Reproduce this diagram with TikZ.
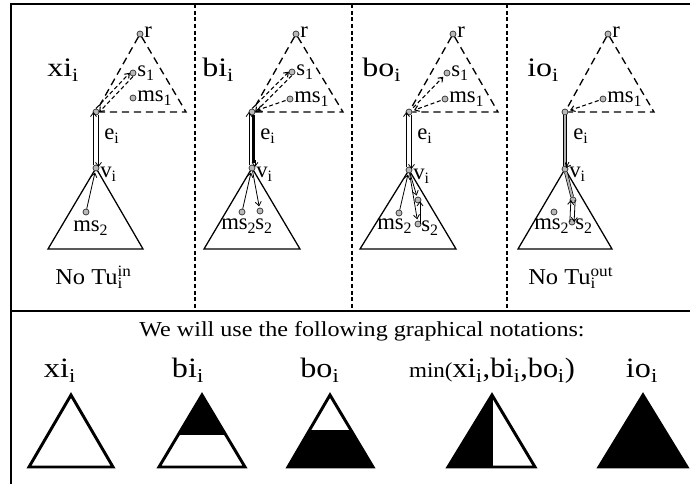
\documentclass[tikz,border=0pt]{standalone}
\usepackage{fontspec}
\setmainfont{Liberation Serif}
\usetikzlibrary{arrows.meta,calc}
\tikzset{
 gdot/.style={circle,draw=black!85,fill=gray!55,inner sep=0pt,minimum size=4.5pt,line width=0.5pt},
 lab/.style={font=\fontsize{17}{17}\selectfont, inner sep=0pt, anchor=base west},
 big/.style={font=\fontsize{20}{20}\selectfont, inner sep=0pt, anchor=base west},
 note/.style={font=\fontsize{21}{21}\selectfont, inner sep=0pt, anchor=base},
 dsh/.style={dash pattern=on 5.5pt off 3.5pt, line width=1pt},
 dsa/.style={dash pattern=on 3pt off 2pt, line width=0.8pt, -{Straight Barb[length=3pt,width=4.5pt]}, shorten <=2pt, shorten >=1.5pt},
 tri/.style={line width=0.95pt},
 arr/.style={line width=0.6pt, -{Straight Barb[length=3pt,width=4.5pt]}},
 nt/.style={line width=2.2pt, line join=miter},
 sep/.style={dash pattern=on 3pt off 2pt, line width=0.8pt},
}
\newcommand\tsub[1]{\textsubscript{#1}}
\newcommand\wx[2]{\scalebox{#1}[1]{#2}}
\begin{document}
\begin{tikzpicture}[x=0.75pt,y=-0.75pt]
\useasboundingbox (0,0) rectangle (690,484);
\clip (0,0) rectangle (690,484);
% frame
\draw[line width=1.5pt] (11,485) -- (11,4) -- (692,4);
\draw[line width=1.5pt] (11,311) -- (692,311);
\draw[sep] (195,4) -- (195,311);
\draw[sep] (352,4) -- (352,311);
\draw[sep] (507,4) -- (507,311);

% ---------- panel 1 : xi
\node[gdot] (r1) at (140,34) {};
\node[gdot] (t1) at (96,112) {};
\coordinate (b1) at (186,112);
\node[gdot] (sa1) at (133,73) {};
\node[gdot] (ma1) at (133,98) {};
\node[gdot] (v1) at (96,168) {};
\coordinate (l1) at (48,249); \coordinate (rr1) at (143,249);
\node[gdot] (mb1) at (86,212) {};
\draw[dsh] (r1) -- (t1);
\draw[dsh] (r1) -- (b1) -- (t1);
\draw[tri] (v1) -- (l1) -- (rr1) -- (v1);
\draw[arr] ($(v1)+(-2.5,-3)$) -- ($(t1)+(-2.5,0)$);
\draw[arr] ($(t1)+(2.5,3)$) -- ($(v1)+(2.5,-1)$);
\draw[dsa] ($(t1)!1.8pt!90:(sa1)$) -- ($(sa1)!1.8pt!-90:(t1)$);
\draw[dsa] ($(sa1)!1.8pt!90:(t1)$) -- ($(t1)!1.8pt!-90:(sa1)$);
\draw[arr, shorten >=1pt] (mb1) -- (v1);
\node[lab] (lr1) at ($(r1)+(4,4)$) {r};
\node[lab] (ls1) at ($(sa1)+(4,4)$) {s\tsub{1}};
\node[lab] (lm1) at ($(ma1)+(4,4)$) {ms\tsub{1}};
\node[lab] (le1) at (104,140) {e\tsub{i}};
\node[lab] (lv1) at (100,178) {v\tsub{i}};
\node[lab] (lmb1) at (73,232) {ms\tsub{2}};
\node[big] (h1) at (47,77) {\wx{1.2}{xi\tsub{i}}};
\node[lab] (n1) at (55,285) {\wx{1.08}{No Tu\rlap{\tsub{i}}\textsuperscript{in}}};

% ---------- panel 2 : bi
\node[gdot] (r2) at (296,34) {};
\node[gdot] (t2) at (252,112) {};
\coordinate (b2) at (343,112);
\node[gdot] (sa2) at (292,72) {};
\node[gdot] (ma2) at (290,99) {};
\node[gdot] (v2) at (252,168) {};
\coordinate (l2) at (204,249); \coordinate (rr2) at (300,249);
\node[gdot] (mb2) at (242,212) {};
\node[gdot] (sb2) at (260,211) {};
\draw[dsh] (r2) -- (t2);
\draw[dsh] (r2) -- (b2) -- (t2);
\draw[tri] (v2) -- (l2) -- (rr2) -- (v2);
\draw[arr] ($(v2)+(-3,-3)$) -- ($(t2)+(-3,0)$);
\draw[line width=2pt] ($(t2)+(1.5,3)$) -- ($(v2)+(1.5,-5)$);
\draw[arr] ($(v2)+(3,-8)$) -- ($(v2)+(3,-1)$);
\draw[dsa] ($(t2)!1.8pt!90:(sa2)$) -- ($(sa2)!1.8pt!-90:(t2)$);
\draw[dsa] ($(sa2)!1.8pt!90:(t2)$) -- ($(t2)!1.8pt!-90:(sa2)$);
\draw[dsa, shorten <=1pt] (ma2) -- (t2);
\draw[arr, shorten >=1pt] (mb2) -- (v2);
\draw[arr, shorten >=1pt] (v2) -- (sb2);
\node[lab] (lr2) at ($(r2)+(4,4)$) {r};
\node[lab] (ls2) at ($(sa2)+(4,4)$) {s\tsub{1}};
\node[lab] (lm2) at ($(ma2)+(4,4)$) {ms\tsub{1}};
\node[lab] (le2) at (260,140) {e\tsub{i}};
\node[lab] (lv2) at (256,178) {v\tsub{i}};
\node[lab] (lmb2) at (221,230) {ms\tsub{2}};
\node[lab] (lsb2) at (255,230) {s\tsub{2}};
\node[big] (h2) at (202,77) {\wx{1.2}{bi\tsub{i}}};

% ---------- panel 3 : bo
\node[gdot] (r3) at (453,34) {};
\node[gdot] (t3) at (409,112) {};
\coordinate (b3) at (498,112);
\node[gdot] (sa3) at (447,73) {};
\node[gdot] (ma3) at (445,99) {};
\node[gdot] (v3) at (409,170) {};
\coordinate (l3) at (360,249); \coordinate (rr3) at (456,249);
\node[gdot] (mb3) at (399,213) {};
\node[gdot] (mc3) at (418,200) {};
\node[gdot] (sb3) at (418,224) {};
\draw[dsh] (r3) -- (t3);
\draw[dsh] (r3) -- (b3) -- (t3);
\draw[tri] (v3) -- (l3) -- (rr3) -- (v3);
\draw[arr] ($(v3)+(-2.5,-3)$) -- ($(t3)+(-2.5,0)$);
\draw[arr] ($(t3)+(2.5,3)$) -- ($(v3)+(2.5,-1)$);
\draw[dsa] (t3) -- (sa3);
\draw[dsa, shorten <=1pt] (ma3) -- (t3);
\draw[arr, shorten >=1pt] (mb3) -- (v3);
\draw[arr, shorten >=1pt] (v3) -- (mc3);
\draw[arr, shorten >=1pt] (v3) -- (sb3);
\draw[arr, shorten >=1pt] ($(sb3)+(2,0)$) -- ($(mc3)+(2,0)$);
\node[lab] (lr3) at ($(r3)+(4,4)$) {r};
\node[lab] (ls3) at ($(sa3)+(4,4)$) {s\tsub{1}};
\node[lab] (lm3) at ($(ma3)+(4,4)$) {ms\tsub{1}};
\node[lab] (le3) at (417,140) {e\tsub{i}};
\node[lab] (lv3) at (413,180) {v\tsub{i}};
\node[lab] (lmb3) at (377,230) {ms\tsub{2}};
\node[lab] (lsb3) at (421,232) {s\tsub{2}};
\node[big] (h3) at (362,77) {\wx{1.2}{bo\tsub{i}}};

% ---------- panel 4 : io
\node[gdot] (r4) at (608,34) {};
\node[gdot] (t4) at (565,112) {};
\coordinate (b4) at (654,112);
\node[gdot] (ma4) at (603,99) {};
\node[gdot] (v4) at (565,169) {};
\coordinate (l4) at (518,249); \coordinate (rr4) at (612,249);
\node[gdot] (mb4) at (554,212) {};
\node[gdot] (mc4) at (573,200) {};
\node[gdot] (sb4) at (572,222) {};
\draw[dsh] (r4) -- (t4);
\draw[dsh] (r4) -- (b4) -- (t4);
\draw[tri] (v4) -- (l4) -- (rr4) -- (v4);
\draw[line width=0.5pt, double=gray!60, double distance=1.6pt] (t4) -- (v4);
\draw[arr] ($(v4)+(4,-7)$) -- ($(v4)+(1,-1)$);
\draw[line width=0.5pt, double=gray!60, double distance=1.6pt] (v4) -- (mc4);
\draw[arr] ($(mc4)!1.6pt!90:(sb4)$) -- ($(sb4)!1.6pt!-90:(mc4)$);
\draw[arr] ($(sb4)!1.6pt!90:(mc4)$) -- ($(mc4)!1.6pt!-90:(sb4)$);
\draw[dsa, shorten <=1pt] (ma4) -- (t4);
\node[lab] (lr4) at ($(r4)+(4,4)$) {r};
\node[lab] (lm4) at ($(ma4)+(4,4)$) {ms\tsub{1}};
\node[lab] (le4) at (573,140) {e\tsub{i}};
\node[lab] (lv4) at (569,178) {v\tsub{i}};
\node[lab] (lmb4) at (534,230) {ms\tsub{2}};
\node[lab] (lsb4) at (575,230) {s\tsub{2}};
\node[big] (h4) at (527,77) {\wx{1.2}{io\tsub{i}}};
\node[lab] (n4) at (528,285) {\wx{1.08}{No Tu\rlap{\tsub{i}}\textsuperscript{out}}};

% ---------- notations
\node[font=\fontsize{16}{16}\selectfont, inner sep=0pt, anchor=base] (title) at (362,337) {\wx{1.13}{We will use the following graphical notations:}};

\node[note] (k1) at (60,378) {\wx{1.15}{xi\tsub{i}}};
\node[note] (k2) at (188,378) {\wx{1.15}{bi\tsub{i}}};
\node[note] (k3) at (320,378) {\wx{1.15}{bo\tsub{i}}};
\node[note] (k4) at (492,378) {\wx{1.08}{{\fontsize{16}{16}\selectfont min(}xi\tsub{i},bi\tsub{i},bo\tsub{i})}};
\node[note] (k5) at (642,378) {\wx{1.15}{io\tsub{i}}};

% xi : empty
\draw[nt] (71,395) -- (29,467) -- (113,467) -- cycle;
% bi : top black
\begin{scope}
\clip (202,395) -- (159,467) -- (245,467) -- cycle;
\fill (150,390) rectangle (255,435);
\end{scope}
\draw[nt] (202,395) -- (159,467) -- (245,467) -- cycle;
% bo : bottom black
\begin{scope}
\clip (330,395) -- (288,467) -- (373,467) -- cycle;
\fill (280,430) rectangle (380,470);
\end{scope}
\draw[nt] (330,395) -- (288,467) -- (373,467) -- cycle;
% min : left half black
\fill (492,395) -- (448,467) -- (492,467) -- cycle;
\draw[nt] (492,395) -- (448,467) -- (535,467) -- cycle;
\draw[nt] (492,395) -- (492,467);
% io : full black
\filldraw[nt] (643,395) -- (599,467) -- (687,467) -- cycle;
\end{tikzpicture}
\end{document}
